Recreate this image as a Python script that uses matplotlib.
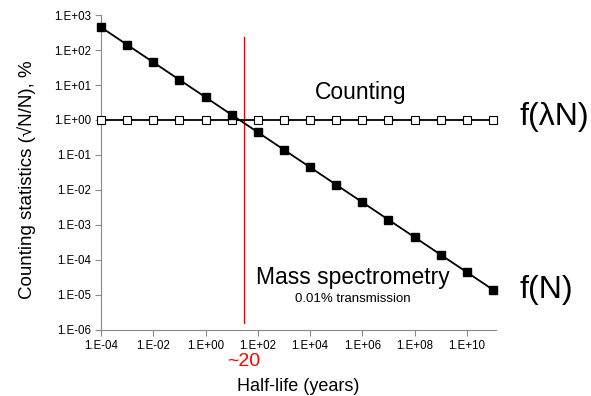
import numpy as np
import matplotlib.pyplot as plt
from matplotlib.ticker import FixedLocator, FuncFormatter, NullLocator

plt.rcParams['font.family'] = ['Liberation Sans', 'DejaVu Sans']

# half-life values (years)
half_life = [1e-4, 1e-3, 1e-2, 1e-1, 1e0, 1e1, 1e2, 1e3, 1e4, 1e5, 1e6, 1e7, 1e8, 1e9, 1e10, 1e11]
# mass spectrometry f(N)
mass_spec = [447, 141, 44.7, 14.1, 4.47, 1.41, 0.447, 0.141, 0.0447, 0.0141,
             4.47e-3, 1.41e-3, 4.47e-4, 1.41e-4, 4.47e-5, 1.41e-5]
# counting f(lambda N)
counting = [1.0] * 16

crossover = 30

x_ticks = [1e-4, 1e-2, 1e0, 1e2, 1e4, 1e6, 1e8, 1e10]
y_ticks = [1e-6, 1e-5, 1e-4, 1e-3, 1e-2, 1e-1, 1e0, 1e1, 1e2, 1e3]


def sci_fmt(v, pos):
    e = int(round(np.log10(v)))
    return f"1.E{'+' if e >= 0 else '-'}{abs(e):02d}"


fig = plt.figure(figsize=(5.91, 3.96), dpi=100)
ax = fig.add_axes([0.171, 0.167, 0.668, 0.795])

ax.plot(half_life, counting, color='black', lw=1.3, marker='s', ms=5.5,
        mfc='white', mec='black', mew=0.8, zorder=3, clip_on=False)
ax.plot(half_life, mass_spec, color='black', lw=1.3, marker='s', ms=5.8,
        mfc='black', mec='black', zorder=3, clip_on=False)
ax.axvline(crossover, ymin=0.022, ymax=0.93, color='#e00000', lw=0.9, zorder=2)

ax.set_xscale('log')
ax.set_yscale('log')
ax.set_xlim(1e-4, 1.3e11)
ax.set_ylim(1e-6, 1e3)
ax.xaxis.set_major_locator(FixedLocator(x_ticks))
ax.yaxis.set_major_locator(FixedLocator(y_ticks))
ax.xaxis.set_minor_locator(NullLocator())
ax.yaxis.set_minor_locator(NullLocator())
ax.xaxis.set_major_formatter(FuncFormatter(sci_fmt))
ax.yaxis.set_major_formatter(FuncFormatter(sci_fmt))
ax.tick_params(labelsize=8.3, color='#888888', length=4, width=0.8, pad=3)

for s in ['top', 'right']:
    ax.spines[s].set_visible(False)
for s in ['left', 'bottom']:
    ax.spines[s].set_color('#888888')
    ax.spines[s].set_linewidth(0.8)

ax.set_xlabel('Half-life (years)', fontsize=13)
ax.set_ylabel('Counting statistics (\u221aN/N), %', fontsize=13.5)
ax.xaxis.set_label_coords(0.5, -0.152)
ax.yaxis.set_label_coords(-0.165, 0.476)

ax.text(9e5, 6.3, 'Counting', fontsize=16.5, ha='center', va='center')
ax.text(4.5e5, 3.1e-5, 'Mass spectrometry', fontsize=16.5, ha='center', va='center')
ax.text(4.5e5, 7.7e-6, '0.01% transmission', fontsize=9.5, ha='center', va='center')
ax.text(1.061, 0.676, 'f(\u03bbN)', fontsize=23, ha='left', va='center', transform=ax.transAxes)
ax.text(1.061, 0.127, 'f(N)', fontsize=23, ha='left', va='center', transform=ax.transAxes)
ax.text(crossover, -0.102, '~20', fontsize=14, color='#ff0000', ha='center', va='center',
        transform=ax.get_xaxis_transform())

fig.savefig('out.png', dpi=100)
